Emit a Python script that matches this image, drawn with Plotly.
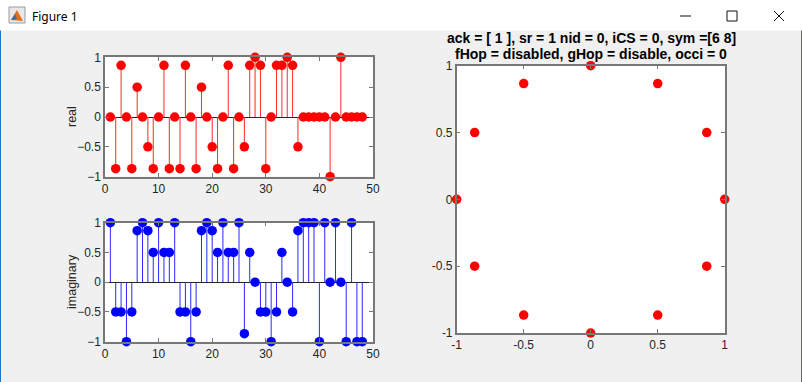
import plotly.graph_objects as go

# ---- data ----
n = list(range(1, 49))
real_vals = [0, -0.866, 0.866, 0, -0.866, 0.5, 0, -0.5, -0.866, 0,
             0.866, -0.866, 0, -0.866, 0.866, 0, -0.866, 0.5, 0, -0.5,
             -0.866, 0, 0.866, -0.866, 0, -0.5, 0.866, 1, 0.866, -0.866,
             0, 0.866, 0.866, 1, 0.866, -0.5, 0, 0, 0, 0,
             0, -1, 0, 1, 0, 0, 0, 0]
imag_vals = [1, -0.5, -0.5, -1, -0.5, 0.866, 1, 0.866, 0.5, 1,
             0.5, 0.5, 1, -0.5, -0.5, -1, -0.5, 0.866, 1, 0.866,
             0.5, 1, 0.5, 0.5, 1, -0.866, 0.5, 0, -0.5, -0.5,
             -1, -0.5, 0.5, 0, -0.5, 0.866, 1, 1, 1, -1,
             1, 0, 1, 0, -1, 1, -1, -1]
const_x = [1, 0.866, 0.5, 0, -0.5, -0.866, -1, -0.866, -0.5, 0, 0.5, 0.866]
const_y = [0, 0.5, 0.866, 1, 0.866, 0.5, 0, -0.5, -0.866, -1, -0.866, -0.5]
title_line1 = "ack = [ 1 ], sr = 1 nid = 0, iCS = 0, sym =[6 8]"
title_line2 = "fHop = disabled, gHop = disable, occi = 0"

W, H = 802, 382
def px(v): return v / W
def py(v): return 1 - v / H

def stem_lines(xs, ys):
    lx, ly = [], []
    for a, b in zip(xs, ys):
        lx += [a, a, None]
        ly += [0, b, None]
    return lx, ly

fig = go.Figure()

rx, ry = stem_lines(n, real_vals)
fig.add_trace(go.Scatter(x=rx, y=ry, mode="lines", line=dict(color="#ff2a2a", width=1),
                         xaxis="x", yaxis="y", hoverinfo="skip", showlegend=False))
fig.add_trace(go.Scatter(x=n, y=real_vals, mode="markers",
                         marker=dict(color="red", size=9.5, line=dict(width=0)),
                         xaxis="x", yaxis="y", showlegend=False, cliponaxis=False))
ix, iy = stem_lines(n, imag_vals)
fig.add_trace(go.Scatter(x=ix, y=iy, mode="lines", line=dict(color="#2a2aff", width=1),
                         xaxis="x2", yaxis="y2", hoverinfo="skip", showlegend=False))
fig.add_trace(go.Scatter(x=n, y=imag_vals, mode="markers",
                         marker=dict(color="blue", size=9.5, line=dict(width=0)),
                         xaxis="x2", yaxis="y2", showlegend=False, cliponaxis=False))
fig.add_trace(go.Scatter(x=const_x, y=const_y, mode="markers",
                         marker=dict(color="red", size=9.5, line=dict(width=0)),
                         xaxis="x3", yaxis="y3", showlegend=False, cliponaxis=False))

tickfont = dict(family="Liberation Sans, Arial", size=12, color="#262626")
common = dict(showline=True, linecolor="#777777", linewidth=1.5, mirror="ticks",
              ticks="inside", ticklen=4, tickcolor="#777777", tickwidth=1,
              showgrid=False, tickfont=tickfont, fixedrange=True, automargin=False)

left_x = [px(105), px(373)]
fig.update_layout(
    width=W, height=H,
    margin=dict(l=0, r=0, t=0, b=0),
    paper_bgcolor="#f0f0f0",
    plot_bgcolor="white",
    font=dict(family="Liberation Sans, Arial", color="#262626"),
    xaxis=dict(domain=left_x, anchor="y", range=[0, 50], tickvals=[0, 10, 20, 30, 40, 50],
               zeroline=False, **common),
    yaxis=dict(domain=[py(176.7), py(57.3)], anchor="x", range=[-1, 1],
               tickvals=[-1, -0.5, 0, 0.5, 1], zeroline=True, zerolinecolor="#262626",
               zerolinewidth=1, **common),
    xaxis2=dict(domain=left_x, anchor="y2", range=[0, 50], tickvals=[0, 10, 20, 30, 40, 50],
                zeroline=False, **common),
    yaxis2=dict(domain=[py(341.7), py(222.7)], anchor="x2", range=[-1, 1],
                tickvals=[-1, -0.5, 0, 0.5, 1], zeroline=True, zerolinecolor="#262626",
                zerolinewidth=1, **common),
    xaxis3=dict(domain=[px(456.7), px(724.7)], anchor="y3", range=[-1, 1],
                tickvals=[-1, -0.5, 0, 0.5, 1], ticktext=["-1", "-0.5", "0", "0.5", "1"],
                zeroline=False, **common),
    yaxis3=dict(domain=[py(333), py(65.7)], anchor="x3", range=[-1, 1],
                tickvals=[-1, -0.5, 0, 0.5, 1], ticktext=["-1", "-0.5", "0", "0.5", "1"],
                zeroline=False, **common),
)

# window chrome
shapes = [
    dict(type="rect", xref="paper", yref="paper", x0=0, x1=1, y0=py(30.5), y1=1,
         fillcolor="white", line=dict(width=0), layer="below"),
    dict(type="line", xref="paper", yref="paper", x0=px(0.5), x1=px(0.5), y0=0, y1=py(30.5),
         line=dict(color="#1979ca", width=1)),
    dict(type="line", xref="paper", yref="paper", x0=px(801.5), x1=px(801.5), y0=0, y1=py(30.5),
         line=dict(color="#1979ca", width=1)),
    # icon
    dict(type="rect", xref="paper", yref="paper", x0=px(9), x1=px(25), y0=py(23), y1=py(7),
         fillcolor="#e8e8e8", line=dict(color="#9a9a9a", width=1)),
    dict(type="path", xref="paper", yref="paper",
         path=f"M {px(11)},{py(20)} L {px(17)},{py(10)} L {px(23)},{py(21)} Z",
         fillcolor="#e07020", line=dict(width=0)),
    dict(type="path", xref="paper", yref="paper",
         path=f"M {px(11)},{py(20)} L {px(15)},{py(14)} L {px(17)},{py(19)} Z",
         fillcolor="#3070b0", line=dict(width=0)),
    # window buttons
    dict(type="line", xref="paper", yref="paper", x0=px(680), x1=px(691), y0=py(16), y1=py(16),
         line=dict(color="#111", width=1)),
    dict(type="rect", xref="paper", yref="paper", x0=px(727), x1=px(737), y0=py(21), y1=py(11),
         line=dict(color="#111", width=1)),
    dict(type="line", xref="paper", yref="paper", x0=px(774), x1=px(784), y0=py(21), y1=py(11),
         line=dict(color="#111", width=1)),
    dict(type="line", xref="paper", yref="paper", x0=px(774), x1=px(784), y0=py(11), y1=py(21),
         line=dict(color="#111", width=1)),
]
fig.update_layout(shapes=shapes)

annots = [
    dict(text="Figure 1", xref="paper", yref="paper", x=px(30), y=py(16), xanchor="left",
         yanchor="middle", showarrow=False, font=dict(family="Noto Sans, DejaVu Sans", size=12, color="black")),
    dict(text=f"<b>{title_line1}</b>", xref="paper", yref="paper", x=px(591), y=py(37.5),
         xanchor="center", yanchor="middle", showarrow=False,
         font=dict(family="Liberation Sans, Arial", size=14, color="black")),
    dict(text=f"<b>{title_line2}</b>", xref="paper", yref="paper", x=px(591), y=py(54),
         xanchor="center", yanchor="middle", showarrow=False,
         font=dict(family="Liberation Sans, Arial", size=14, color="black")),
    dict(text="real", xref="paper", yref="paper", x=px(72), y=py(117), textangle=-90,
         xanchor="center", yanchor="middle", showarrow=False,
         font=dict(family="Liberation Sans, Arial", size=12.5, color="#262626")),
    dict(text="imaginary", xref="paper", yref="paper", x=px(72), y=py(282), textangle=-90,
         xanchor="center", yanchor="middle", showarrow=False,
         font=dict(family="Liberation Sans, Arial", size=12.5, color="#262626")),
]
fig.update_layout(annotations=annots)

fig.write_html("out.html", config=dict(displayModeBar=False),
               post_script="document.body.style.margin='0';document.body.style.overflow='hidden';")
